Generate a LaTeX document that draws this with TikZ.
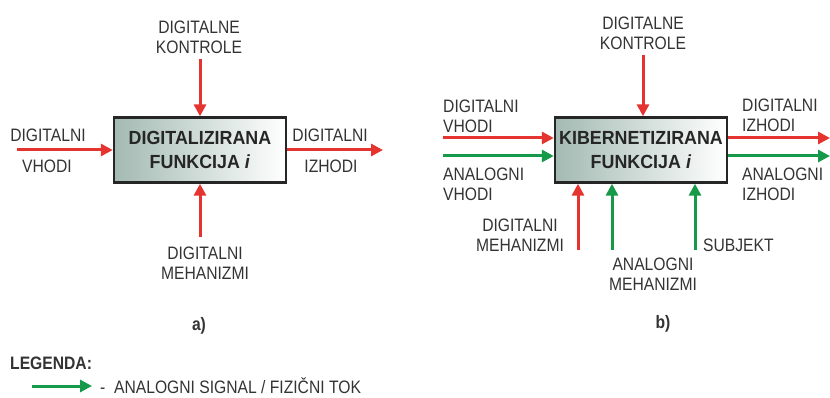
\documentclass[tikz,border=0pt]{standalone}
\usepackage{fontspec}
\setmainfont[FakeStretch=0.87]{Liberation Sans}
\newfontfamily\boxfont[FakeStretch=0.94]{Liberation Sans}
\usetikzlibrary{arrows.meta}

\definecolor{dred}{HTML}{E5342F}
\definecolor{agreen}{HTML}{17994A}
\definecolor{boxgray}{HTML}{A3BAB2}
\definecolor{txt}{HTML}{333333}

\tikzset{
    dsig/.style={draw=dred, line width=3pt, -{Triangle[length=12pt,width=12pt]}},
    asig/.style={draw=agreen, line width=3pt, -{Triangle[length=12pt,width=12pt]}},
    lbl/.style={text=txt, font=\fontsize{18}{20}\selectfont, inner sep=0pt, align=center},
    fbox/.style={draw=black!85, line width=2.4pt, left color=boxgray, right color=white,
        minimum width=172pt, minimum height=65pt, align=center, text=black!85,
        font=\boxfont\bfseries\fontsize{19}{24}\selectfont},
}

\begin{document}
\begin{tikzpicture}[x=1pt, y=-1pt]
        \useasboundingbox (0,0) rectangle (830,398);

        % a) digitalizirana funkcija
        \node[fbox] (A) at (200,150) {DIGITALIZIRANA\\FUNKCIJA \textit{i}};
        \coordinate (Ain) at (17,150);
        \coordinate (Aout) at (383,150);
        \coordinate (Actl) at (200,59);
        \coordinate (Amech) at (200,237);

        \node[lbl] (Actltxt) at (199,37) {DIGITALNE\\KONTROLE};
        \node[lbl] (Aintxt1) at (48,135) {DIGITALNI};
        \node[lbl] (Aintxt2) at (47,166) {VHODI};
        \node[lbl] (Aouttxt1) at (330,135) {DIGITALNI};
        \node[lbl] (Aouttxt2) at (331,166) {IZHODI};
        \node[lbl] (Amechtxt) at (205,263) {DIGITALNI\\MEHANIZMI};

        \draw[dsig] (Ain) -- (A.west);
        \draw[dsig] (A.east) -- (Aout);
        \draw[dsig] (Actl) -- (A.north);
        \draw[dsig] (Amech) -- (A.south);

        \node[lbl, font=\bfseries\fontsize{18}{20}\selectfont] (Acap) at (199,326) {a)};

        % b) kibernetizirana funkcija
        \node[fbox] (B) at (641,150) {KIBERNETIZIRANA\\FUNKCIJA \textit{i}};
        \coordinate (Bctl) at (643,55);
        \coordinate (Bdin) at (443,138);
        \coordinate (Bain) at (443,156);
        \coordinate (Bdout) at (830,138);
        \coordinate (Baout) at (830,156);
        \coordinate (Bdmech) at (578,250);
        \coordinate (Bamech) at (612,250);
        \coordinate (Bsubj) at (695,250);

        \node[lbl] (Bctltxt) at (643,33) {DIGITALNE\\KONTROLE};
        \node[lbl, anchor=west, align=left] (Bdintxt) at (443,116) {DIGITALNI\\VHODI};
        \node[lbl, anchor=west, align=left] (Baintxt) at (443,184) {ANALOGNI\\VHODI};
        \node[lbl, anchor=west, align=left] (Bdouttxt) at (742,115) {DIGITALNI\\IZHODI};
        \node[lbl, anchor=west, align=left] (Baouttxt) at (742,184) {ANALOGNI\\IZHODI};
        \node[lbl] (Bdmechtxt) at (520,235) {DIGITALNI\\MEHANIZMI};
        \node[lbl] (Bamechtxt) at (653,274) {ANALOGNI\\MEHANIZMI};
        \node[lbl, anchor=west] (Bsubjtxt) at (703,245) {SUBJEKT};

        \draw[dsig] (Bctl) -- (Bctl |- B.north);
        \draw[dsig] (Bdin) -- (Bdin -| B.west);
        \draw[asig] (Bain) -- (Bain -| B.west);
        \draw[dsig] (Bdout -| B.east) -- (Bdout);
        \draw[asig] (Baout -| B.east) -- (Baout);
        \draw[dsig] (Bdmech) -- (Bdmech |- B.south);
        \draw[asig] (Bamech) -- (Bamech |- B.south);
        \draw[asig] (Bsubj) -- (Bsubj |- B.south);

        \node[lbl, font=\bfseries\fontsize{18}{20}\selectfont] (Bcap) at (663,324) {b)};

        % legenda
        \node[lbl, anchor=west, font=\bfseries\fontsize{18}{20}\selectfont] (leg) at (10,363) {LEGENDA:};
        \coordinate (legA) at (32,386);
        \coordinate (legB) at (92,386);
        \draw[asig] (legA) -- (legB);
        \node[lbl, anchor=west] (legtxt) at (100,386) {-\ \ ANALOGNI SIGNAL / FIZIČNI TOK};
    \end{tikzpicture}
\end{document}
